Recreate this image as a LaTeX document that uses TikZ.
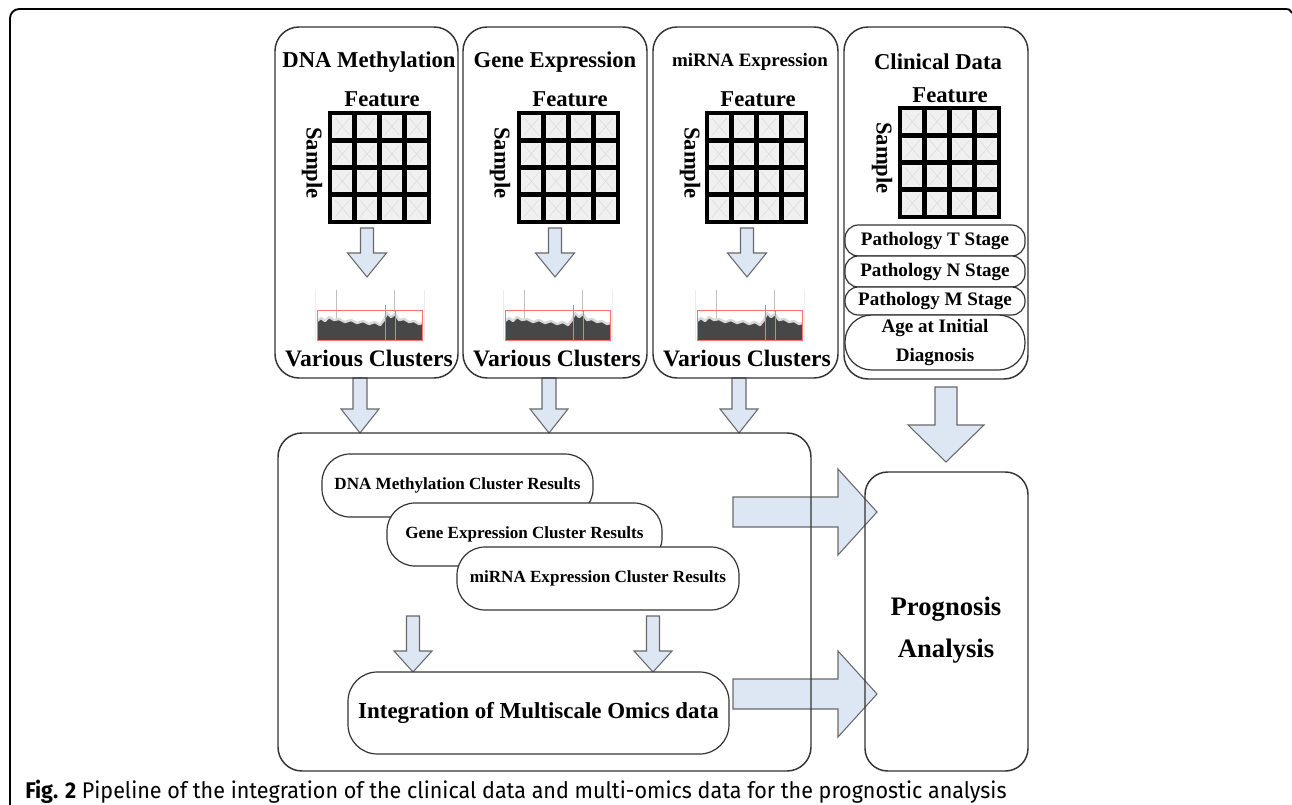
\documentclass[tikz,border=0pt]{standalone}
\usepackage{fontspec}
\setmainfont{Liberation Serif}
\newfontfamily\capfont{Fira Sans}[FakeStretch=0.95]
\usetikzlibrary{fit}
\usetikzlibrary{backgrounds}
\definecolor{arrfill}{RGB}{221,230,243}
\definecolor{arrline}{RGB}{105,105,105}
\tikzset{
    every node/.style={inner sep=0pt},
    omicsbox/.style={
        draw=black!80,
        line width=1.1pt,
        rounded corners=18pt},
    pill/.style={
        draw=black!80,
        fill=white,
        line width=0.9pt},
    stagepill/.style={
        pill,
        rounded corners=10pt},
    stagetext/.style={
        align=center,
        font=\fontsize{14.3}{21.75}\selectfont\bfseries},
    respill/.style={
        pill,
        rounded corners=21pt},
    restext/.style={font=\fontsize{12.8}{15}\selectfont\bfseries},
    blockarr/.style={
        draw=arrline,
        fill=arrfill,
        line width=0.8pt},
    headtext/.style={font=\fontsize{17}{20}\selectfont\bfseries},
    mirhead/.style={font=\fontsize{14.2}{17}\selectfont\bfseries},
    axistext/.style={font=\fontsize{17}{20}\selectfont\bfseries},
    clustext/.style={font=\fontsize{17.7}{21}\selectfont\bfseries},
    featgrid/.pic={
        \foreach \i in {0,...,3}{
            \foreach \j in {0,...,3}{
                \fill[gray!12] (\i*24.75,\j*27.25) rectangle ++(24.75,27.25);
                \draw[gray!28, line width=0.4pt] (\i*24.75+5,\j*27.25+5) -- ++(14.75,17.25)
                    (\i*24.75+19.75,\j*27.25+5) -- ++(-14.75,17.25);
            }
        }
        \foreach \k in {0,...,4}{
            \draw[line width=3.6pt, line cap=rect] (\k*24.75,0) -- (\k*24.75,109);
            \draw[line width=3.6pt, line cap=rect] (0,\k*27.25) -- (99,\k*27.25);
        }
    },
    clusterimg/.pic={
        \draw[gray!15, line width=0.5pt] (-52,0) -- (-52,50) (57,0) -- (57,50);
        \draw[gray!50, line width=0.6pt] (-31,0) -- (-31,30) (27,0) -- (27,22);
        \fill[black!72] (-50,50) -- (-50,31) -- (-46,28) -- (-42,31) -- (-38,27) -- (-33,30)
            -- (-28,29) -- (-22,32) -- (-16,30) -- (-10,33) -- (-4,31) -- (2,34) -- (8,32)
            -- (13,35) -- (17,30) -- (20,23) -- (24,27) -- (28,24) -- (32,30) -- (37,29)
            -- (42,32) -- (47,31) -- (52,34) -- (55,33) -- (55,50) -- cycle;
        \draw[gray!30, line width=1.8pt, line join=round] (-50,31) -- (-46,28) -- (-42,31)
            -- (-38,27) -- (-33,30) -- (-28,29) -- (-22,32) -- (-16,30) -- (-10,33) -- (-4,31)
            -- (2,34) -- (8,32) -- (13,35) -- (17,30) -- (20,23) -- (24,27) -- (28,24)
            -- (32,30) -- (37,29) -- (42,32) -- (47,31) -- (52,34) -- (55,33);
        \draw[red!55, line width=0.5pt] (-50,20) rectangle (55,50) (18,15) -- (18,50) (28,20) -- (28,50);
    }}
% block arrows: x, y top, y head, y tip, half shaft, half head
\newcommand{\downblock}[6]{%
    \draw[blockarr] (#1-#5,#2) -- (#1+#5,#2) -- (#1+#5,#3) -- (#1+#6,#3) -- (#1,#4)
        -- (#1-#6,#3) -- (#1-#5,#3) -- cycle;}
% y, x start, x head, x tip, half shaft, half head
\newcommand{\rightblock}[6]{%
    \draw[blockarr] (#2,#1-#5) -- (#3,#1-#5) -- (#3,#1-#6) -- (#4,#1) -- (#3,#1+#6)
        -- (#3,#1+#5) -- (#2,#1+#5) -- cycle;}

\begin{document}
\begin{tikzpicture}[x=0.75pt,y=-0.75pt]
    \useasboundingbox (0,0) rectangle (1292,805);
    \draw[line width=1.4pt, rounded corners=7pt] (10,806) -- (10,9) -- (1286,9);
    \draw[line width=1.4pt] (1286,9) .. controls (1289,9) .. (1292,13);

    % omics columns
    \node[omicsbox, fit={(275,27) (458,378)}] (dnabox) {};
    \node[omicsbox, fit={(463,27) (647,378)}] (genebox) {};
    \node[omicsbox, fit={(653,27) (838,378)}] (mirbox) {};
    \node[omicsbox, fit={(844,27) (1028,379)}] (clinbox) {};

    \node[headtext] (dnatitle) at (369,62) {DNA Methylation};
    \node[headtext] (genetitle) at (555,62) {Gene Expression};
    \node[mirhead] (mirtitle) at (750,62) {miRNA Expression};
    \node[headtext] (clintitle) at (938,62) {Clinical Data};

    \node[axistext] (dnafeat) at (382,99) {Feature};
    \node[axistext] (genefeat) at (570,99) {Feature};
    \node[axistext] (mirfeat) at (758,99) {Feature};
    \node[axistext] (clinfeat) at (950,95) {Feature};

    \node[axistext, rotate=-90] (dnasamp) at (312,163) {Sample};
    \node[axistext, rotate=-90] (genesamp) at (500,163) {Sample};
    \node[axistext, rotate=-90] (mirsamp) at (690,163) {Sample};
    \node[axistext, rotate=-90] (clinsamp) at (882,158) {Sample};

    \pic at (330,113) {featgrid};
    \pic at (519,113) {featgrid};
    \pic at (707,113) {featgrid};
    \pic at (900,108) {featgrid};

    \pic at (367,290) {clusterimg};
    \pic at (555,290) {clusterimg};
    \pic at (747,290) {clusterimg};

    \node[clustext] (dnaclus) at (369,358) {Various Clusters};
    \node[clustext] (geneclus) at (557,358) {Various Clusters};
    \node[clustext] (mirclus) at (747,358) {Various Clusters};

    % clinical variables
    \node[stagepill, fit={(845,225) (1025,256)}] (tstage) {};
    \node[stagetext] at (tstage.center) {Pathology T Stage};
    \node[stagepill, fit={(845,256) (1025,287)}] (nstage) {};
    \node[stagetext] at (nstage.center) {Pathology N Stage};
    \node[stagepill, fit={(845,287) (1025,315)}] (mstage) {};
    \node[stagetext] at (mstage.center) {Pathology M Stage};
    \node[stagepill, rounded corners=20pt, fit={(845,315) (1025,370)}] (age) {};
    \node[stagetext] at (age.center) {Age at Initial\\Diagnosis};

    % integration
    \node[omicsbox, fit={(278,433) (811,771)}] (integbox) {};
    \node[respill, fit={(322,454) (593,517)}] (dnares) {};
    \node[restext] at (dnares.center) {DNA Methylation Cluster Results};
    \node[respill, fit={(387,503) (662,566)}] (generes) {};
    \node[restext] at (generes.center) {Gene Expression Cluster Results};
    \node[respill, fit={(457,547) (739,610)}] (mirres) {};
    \node[restext] at (mirres.center) {miRNA Expression Cluster Results};
    \node[pill, rounded corners=22pt, fit={(348,672) (729,754)}] (multi) {};
    \node[font=\fontsize{17.2}{20}\selectfont\bfseries] at (multi.center) {Integration of Multiscale Omics data};

    \node[omicsbox, rounded corners=17pt, fit={(865,472) (1028,771)}] (prog) {};
    \node[align=center, font=\fontsize{20}{31.5}\selectfont\bfseries] (progtext) at (946,630) {Prognosis\\Analysis};

    \node[anchor=west, font=\capfont\fontsize{17}{20}\selectfont] (caption) at (25,792)
        {\textbf{Fig. 2} Pipeline of the integration of the clinical data and multi-omics data for the prognostic analysis};

    \begin{scope}[on background layer]
        \downblock{367}{228}{253}{277}{6.5}{19.5}
        \downblock{555}{228}{253}{277}{6.5}{19.5}
        \downblock{747}{228}{253}{277}{6.5}{19.5}
        \downblock{360}{378}{409}{433}{7}{19}
        \downblock{549}{378}{409}{433}{7}{19}
        \downblock{739}{378}{409}{433}{7}{19}
        \downblock{946}{387}{425}{462}{11}{38}
        \downblock{413}{616}{651}{672}{6.5}{19}
        \downblock{653}{616}{651}{672}{6.5}{19}
        \rightblock{512}{733}{838}{877}{15}{43}
        \rightblock{694}{733}{838}{877}{15}{43}
    \end{scope}
\end{tikzpicture}
\end{document}
